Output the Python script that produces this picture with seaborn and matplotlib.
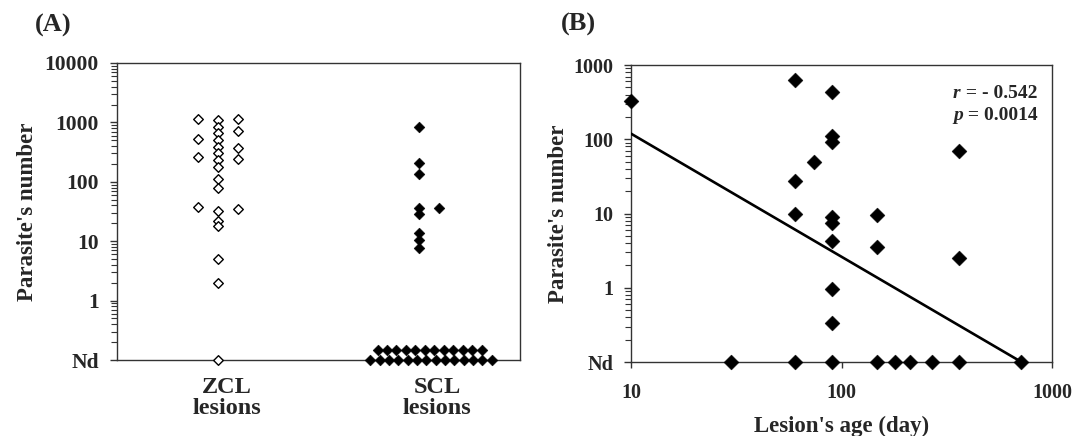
import numpy as np
import pandas as pd
import matplotlib
matplotlib.use("Agg")
import matplotlib.pyplot as plt
import matplotlib.ticker as mticker
import matplotlib.transforms as mtransforms
import seaborn as sns

# ---------------- data ----------------
ND = 0.1  # "Nd" (not detected) baseline on the log axis

# Panel A : parasite number per lesion, three columns of points per category
categories = ["ZCL\nlesions", "SCL\nlesions"]
zcl_left = [1130, 530, 265, 38]
zcl_center = [1100, 850, 660, 500, 380, 300, 230, 180, 110, 80, 32, 22, 18, 5, 2, ND]
zcl_right = [1130, 730, 370, 240, 35]
scl_center = [830, 210, 135, 36, 29, 14, 10.5, 7.6]
scl_right = [36]
scl_nd_bottom = [ND] * 14
scl_nd_top = [ND] * 12

# Panel B : parasite number vs lesion age (days)
age_days = [10, 60, 60, 60, 60, 74, 90, 90, 90, 90, 90, 90, 90, 90, 90,
            148, 148, 148, 180, 212, 268, 360, 360, 360, 30, 716]
parasites_b = [330, 630, 27, 10, ND, 50, 438, 109, 93, 9, 7.5, 4.2, 0.95, 0.34, ND,
               9.5, 3.5, ND, ND, ND, ND, 70, 2.5, ND, ND, ND]
trend_days = [10, 716]
trend_values = [119, ND]
stat_r = "- 0.542"
stat_p = "0.0014"

yticks_a = [ND, 1, 10, 100, 1000, 10000]
ytick_labels_a = ["Nd", "1", "10", "100", "1000", "10000"]
yticks_b = [ND, 1, 10, 100, 1000]
ytick_labels_b = ["Nd", "1", "10", "100", "1000"]
xticks_b = [10, 100, 1000]
xtick_labels_b = ["10", "100", "1000"]

# ---------------- style ----------------
sns.set_theme(style="white")
plt.rcParams["font.family"] = ["Liberation Serif", "DejaVu Serif"]
plt.rcParams["font.weight"] = "bold"
plt.rcParams["axes.labelweight"] = "bold"

W, H = 1076, 436
fig = plt.figure(figsize=(W / 100, H / 100), dpi=100)
axA = fig.add_axes([117 / W, (H - 360) / H, 403 / W, 297 / H])
axB = fig.add_axes([631 / W, (H - 362) / H, 421 / W, 297 / H])

COL_STEP = 0.1
rows = []
for vals, cat, col, grp in [(zcl_left, 0, -1, "ZCL"), (zcl_center, 0, 0, "ZCL"),
                            (zcl_right, 0, 1, "ZCL"), (scl_center, 1, 0, "SCL"),
                            (scl_right, 1, 1, "SCL")]:
    for v in vals:
        rows.append({"group": grp, "x": cat + col * COL_STEP, "y": v})
dfA = pd.DataFrame(rows)

nd_bottom = pd.DataFrame({"x": 1 + np.linspace(-0.242, 0.359, len(scl_nd_bottom)),
                          "y": scl_nd_bottom})
nd_top = pd.DataFrame({"x": 1 + np.linspace(-0.207, 0.309, len(scl_nd_top)),
                       "y": scl_nd_top})

sns.scatterplot(data=dfA[dfA.group == "ZCL"], x="x", y="y", ax=axA, marker="D",
                s=24, facecolor="white", edgecolor="black", linewidth=1.0,
                clip_on=False, zorder=5)
sns.scatterplot(data=dfA[dfA.group == "SCL"], x="x", y="y", ax=axA, marker="D",
                s=30, color="black", edgecolor="black", linewidth=0.4,
                clip_on=False, zorder=5)
sns.scatterplot(data=nd_bottom, x="x", y="y", ax=axA, marker="D",
                s=30, color="black", edgecolor="black", linewidth=0.4,
                clip_on=False, zorder=5)
up = mtransforms.ScaledTranslation(0, 10 / 100, fig.dpi_scale_trans)
sns.scatterplot(data=nd_top, x="x", y="y", ax=axA, marker="D",
                s=30, color="black", edgecolor="black", linewidth=0.4,
                clip_on=False, zorder=5, transform=axA.transData + up)

axA.set_yscale("log")
axA.set_ylim(ND, 10000)
axA.set_xlim(-0.5, 1.5)
axA.set_yticks(yticks_a)
axA.set_yticklabels(ytick_labels_a)
axA.yaxis.set_minor_locator(mticker.LogLocator(base=10, subs=np.arange(2, 10), numticks=20))
axA.yaxis.set_minor_formatter(mticker.NullFormatter())
axA.set_xticks([0, 1])
axA.set_xticklabels(categories)
axA.set_xlabel("")
axA.set_ylabel("Parasite's number", fontsize=16.5, labelpad=5)
axA.tick_params(axis="y", which="major", left=True, length=5, width=1, pad=8,
                labelsize=15.5, direction="out", color="#333333")
axA.tick_params(axis="y", which="minor", left=True, length=4, width=0.8,
                direction="out", color="#333333")
axA.tick_params(axis="x", length=0, pad=12, labelsize=17.5)
for lab, dx in zip(axA.get_xticklabels(), [9, 18]):
    lab.set_linespacing(1.0)
    lab.set_transform(lab.get_transform() +
                      mtransforms.ScaledTranslation(dx / 100, 0, fig.dpi_scale_trans))

# Panel B
dfB = pd.DataFrame({"age": age_days, "parasites": parasites_b})
dfT = pd.DataFrame({"age": trend_days, "parasites": trend_values})
sns.lineplot(data=dfT, x="age", y="parasites", ax=axB, color="black",
             linewidth=1.9, estimator=None, zorder=4)
sns.scatterplot(data=dfB, x="age", y="parasites", ax=axB, marker="D", s=58,
                color="black", edgecolor="black", linewidth=0.3, clip_on=False, zorder=5)
axB.set_xscale("log")
axB.set_yscale("log")
axB.set_xlim(10, 1000)
axB.set_ylim(ND, 1000)
axB.set_yticks(yticks_b)
axB.set_yticklabels(ytick_labels_b)
axB.yaxis.set_minor_locator(mticker.LogLocator(base=10, subs=np.arange(2, 10), numticks=20))
axB.yaxis.set_minor_formatter(mticker.NullFormatter())
axB.set_xticks(xticks_b)
axB.set_xticklabels(xtick_labels_b)
axB.xaxis.set_minor_locator(mticker.NullLocator())
axB.set_xlabel("Lesion's age (day)", fontsize=16.5, labelpad=9)
axB.set_ylabel("Parasite's number", fontsize=16.5, labelpad=3)
axB.tick_params(axis="y", which="major", left=True, length=5, width=1, pad=8,
                labelsize=14.5, direction="out", color="#333333")
axB.tick_params(axis="y", which="minor", left=True, length=4, width=0.8,
                direction="out", color="#333333")
axB.tick_params(axis="x", which="major", bottom=True, length=4, width=1, pad=11,
                labelsize=14.5, direction="out", color="#333333")

for ax in (axA, axB):
    for sp in ax.spines.values():
        sp.set_visible(True)
        sp.set_color("#333333")
        sp.set_linewidth(1.0)
    ax.set_facecolor("white")

# statistics annotation
for label, val, yfrac in [("r", stat_r, 0.905), ("p", stat_p, 0.830)]:
    t = axB.text(0.765, yfrac, label, transform=axB.transAxes, fontsize=14,
                 fontstyle="italic", fontweight="bold", ha="left", va="center")
    axB.annotate(" = " + val, xy=(1, 0), xycoords=t, fontsize=14,
                 fontweight="bold", ha="left", va="bottom")

fig.text(53 / W, 1 - 25 / H, "(A)", fontsize=19, fontweight="bold", ha="center", va="center")
fig.text(578 / W, 1 - 24 / H, "(B)", fontsize=19, fontweight="bold", ha="center", va="center")

fig.savefig("out.png", dpi=100, facecolor="white")
